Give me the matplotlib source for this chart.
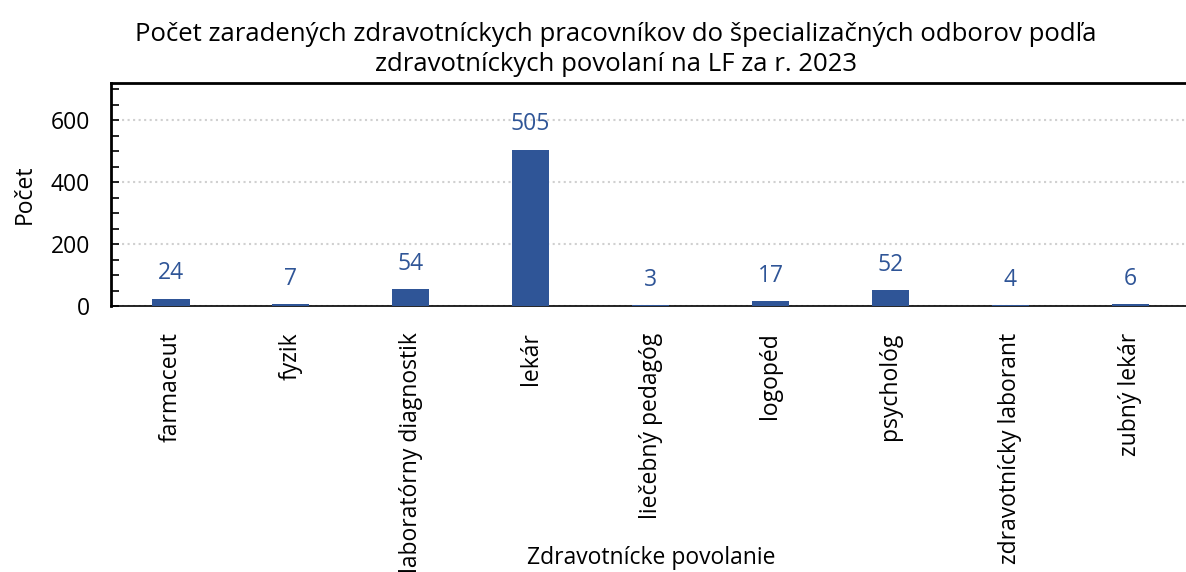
import numpy as np
import matplotlib
matplotlib.use('Agg')
from matplotlib import pyplot as plt
from matplotlib.ticker import MultipleLocator

# data
categories = ['farmaceut', 'fyzik', 'laboratórny diagnostik', 'lekár',
              'liečebný pedagóg', 'logopéd', 'psychológ',
              'zdravotnícky laborant', 'zubný lekár']
counts = [24, 7, 54, 505, 3, 17, 52, 4, 6]
title = ('Počet zaradených zdravotníckych pracovníkov do špecializačných odborov podľa\n'
         'zdravotníckych povolaní na LF za r. 2023')

plt.rcParams['font.family'] = ['Open Sans', 'DejaVu Sans']
bar_color = '#2F5597'

fig = plt.figure(figsize=(11.86, 5.72), dpi=100)
ax = fig.add_axes([0.0936, 1 - 306 / 572, 0.92, (306 - 83) / 572])

x = np.arange(len(categories))
ax.bar(x, counts, width=0.31, color=bar_color, zorder=3)
for xi, c in zip(x, counts):
    ax.annotate(str(c), (xi, c), xytext=(0, 9.5), textcoords='offset points',
                ha='center', va='bottom', color=bar_color, fontsize=16.5)

ax.set_xlim(-0.5, len(categories) - 0.5 + 0.1)
ax.set_ylim(0, 720)
ax.yaxis.set_major_locator(MultipleLocator(200))
ax.yaxis.set_minor_locator(MultipleLocator(50))
ax.grid(axis='y', which='major', color='#d0d0d0', linestyle=':', linewidth=1.5, zorder=0)

ax.set_xticks(x)
ax.set_xticklabels(categories, rotation=90, fontsize=16.5)
ax.tick_params(axis='x', length=0, pad=19)
ax.tick_params(axis='y', which='both', direction='in', length=6, width=1.2,
               labelsize=16.5, pad=15)

ax.spines['right'].set_visible(False)
ax.spines['top'].set_linewidth(2)
ax.spines['left'].set_linewidth(2)
ax.spines['bottom'].set_linewidth(1.2)

ax.set_ylabel('Počet', fontsize=16.5, labelpad=10)
fig.text(0.549, 0.025, 'Zdravotnícke povolanie', ha='center', va='center', fontsize=16.5)
fig.text(0.519, 0.866, title, ha='center', va='bottom', fontsize=18.5, linespacing=1.25)

fig.savefig('out.png', dpi=100)
